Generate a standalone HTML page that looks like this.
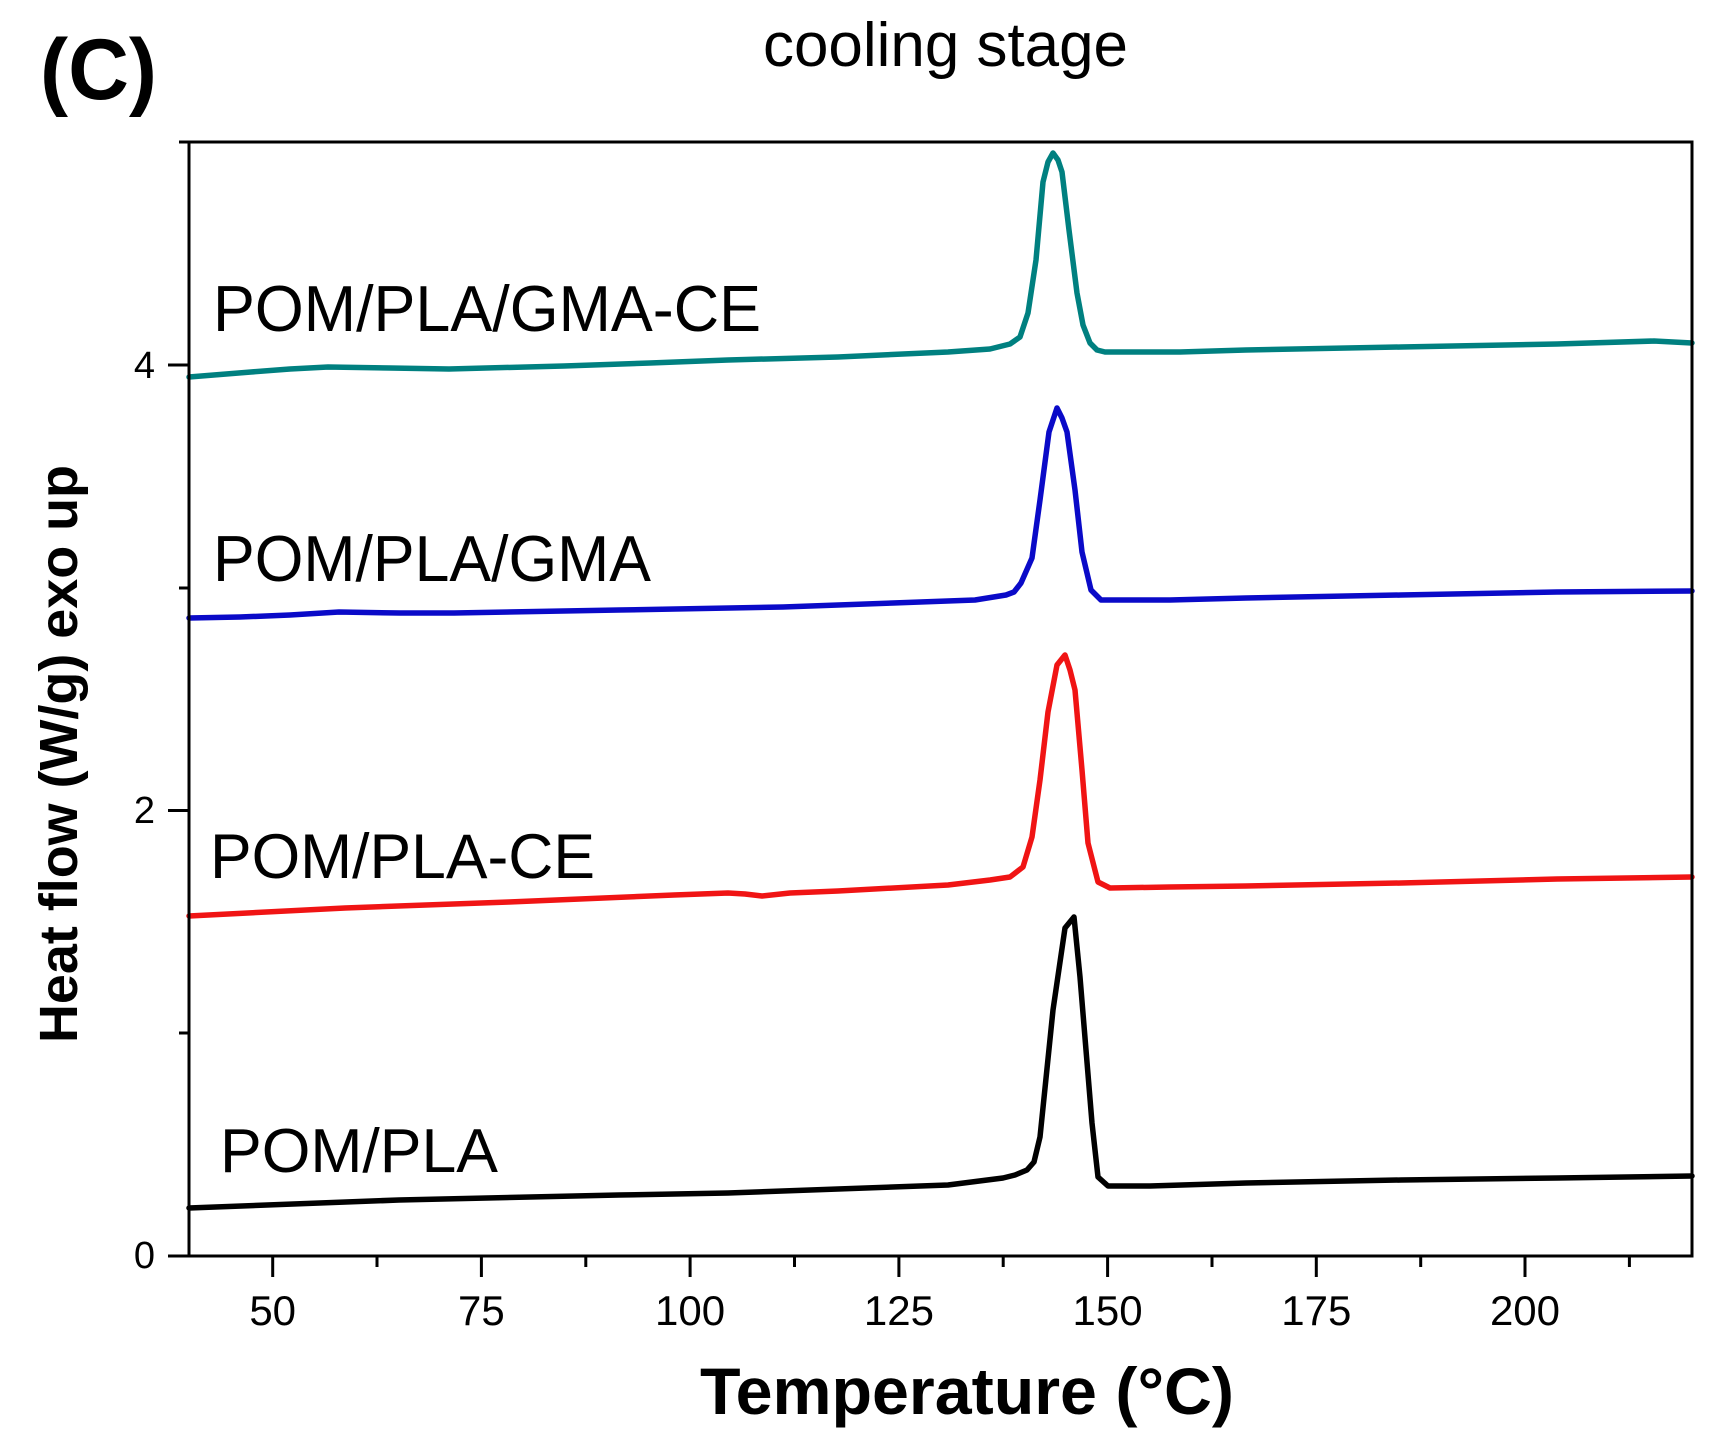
<!DOCTYPE html>
<html>
<head>
<meta charset="utf-8">
<style>
html,body{margin:0;padding:0;background:#fff;}
svg{display:block;}
text{font-family:"Liberation Sans", Arial, sans-serif;fill:#000;}
</style>
</head>
<body>
<svg width="1727" height="1446" viewBox="0 0 1727 1446" xmlns="http://www.w3.org/2000/svg">
<rect x="0" y="0" width="1727" height="1446" fill="#fff"/>

<!-- panel label and title -->
<text x="40" y="99" font-size="86" font-weight="bold" textLength="117" lengthAdjust="spacingAndGlyphs">(C)</text>
<text x="763" y="66" font-size="62" textLength="365" lengthAdjust="spacingAndGlyphs">cooling stage</text>

<!-- curves -->
<g fill="none" stroke-width="5.5" stroke-linejoin="round" stroke-linecap="round">
<path stroke="#008080" d="M189,377 L251,372 L290,369 L328,367 L390,368 L449,369 L564,366 L650,363 L728,360 L838,357 L948,352 L990,349 L1010,344 L1020,337 L1028,313 L1036,260 L1043,182 L1048,162 L1053,153 L1058,160 L1062,172 L1069,230 L1077,293 L1083,325 L1090,343 L1097,350 L1105,352 L1180,352 L1246,350 L1401,347 L1557,344 L1654,341 L1692,343"/>
<path stroke="#0a0ac8" d="M189,618 L240,617 L290,615 L339,612 L400,613 L454,613 L619,610 L783,607 L893,603 L975,600 L1006,595 L1014,592 L1021,583 L1032,558 L1040,500 L1049,432 L1057,408 L1062,418 L1067,432 L1075,490 L1082,552 L1091,590 L1101,600 L1170,600 L1246,598 L1401,595 L1557,592 L1692,591"/>
<path stroke="#f01414" d="M189,916 L345,908 L509,902 L674,895 L728,893 L745,894 L762,896 L790,893 L838,891 L948,885 L990,880 L1010,877 L1023,867 L1032,837 L1040,780 L1048,712 L1057,665 L1065,655 L1070,670 L1075,690 L1082,770 L1088,843 L1098,882 L1110,888 L1170,887 L1246,886 L1401,883 L1557,879 L1692,877"/>
<path stroke="#000" d="M189,1208 L399,1200 L619,1195 L728,1193 L838,1189 L948,1185 L1003,1178 L1015,1175 L1027,1170 L1034,1162 L1040,1137 L1053,1010 L1065,928 L1074,917 L1080,977 L1086,1050 L1092,1123 L1098,1177 L1108,1186 L1150,1186 L1246,1183 L1401,1180 L1557,1178 L1692,1176"/>
</g>

<!-- frame -->
<rect x="189" y="142" width="1503" height="1114" fill="none" stroke="#000" stroke-width="3"/>

<!-- y ticks -->
<g stroke="#000" stroke-width="3">
<line x1="168" y1="1256" x2="189" y2="1256"/>
<line x1="168" y1="810.5" x2="189" y2="810.5"/>
<line x1="168" y1="365" x2="189" y2="365"/>
<line x1="179" y1="1033" x2="189" y2="1033"/>
<line x1="179" y1="588" x2="189" y2="588"/>
<line x1="179" y1="142" x2="189" y2="142"/>
</g>
<g font-size="38" text-anchor="end">
<text x="155" y="1268">0</text>
<text x="155" y="823">2</text>
<text x="155" y="378">4</text>
</g>

<!-- x ticks -->
<g stroke="#000" stroke-width="3">
<line x1="272.7" y1="1256" x2="272.7" y2="1277"/>
<line x1="481.4" y1="1256" x2="481.4" y2="1277"/>
<line x1="690.1" y1="1256" x2="690.1" y2="1277"/>
<line x1="898.9" y1="1256" x2="898.9" y2="1277"/>
<line x1="1107.6" y1="1256" x2="1107.6" y2="1277"/>
<line x1="1316.3" y1="1256" x2="1316.3" y2="1277"/>
<line x1="1525" y1="1256" x2="1525" y2="1277"/>
<line x1="377" y1="1256" x2="377" y2="1267"/>
<line x1="585.8" y1="1256" x2="585.8" y2="1267"/>
<line x1="794.5" y1="1256" x2="794.5" y2="1267"/>
<line x1="1003.2" y1="1256" x2="1003.2" y2="1267"/>
<line x1="1212" y1="1256" x2="1212" y2="1267"/>
<line x1="1420.7" y1="1256" x2="1420.7" y2="1267"/>
<line x1="1629.4" y1="1256" x2="1629.4" y2="1267"/>
</g>
<g font-size="42" text-anchor="middle">
<text x="272.7" y="1325">50</text>
<text x="481.4" y="1325">75</text>
<text x="690.1" y="1325">100</text>
<text x="898.9" y="1325">125</text>
<text x="1107.6" y="1325">150</text>
<text x="1316.3" y="1325">175</text>
<text x="1525" y="1325">200</text>
</g>

<!-- axis titles -->
<text x="700" y="1414" font-size="66" font-weight="bold" textLength="534" lengthAdjust="spacingAndGlyphs">Temperature (°C)</text>
<text transform="translate(77,1043) rotate(-90)" x="0" y="0" font-size="54" font-weight="bold" textLength="578" lengthAdjust="spacingAndGlyphs">Heat flow (W/g) exo up</text>

<!-- series labels -->
<text x="213" y="331" font-size="65" textLength="548" lengthAdjust="spacingAndGlyphs">POM/PLA/GMA-CE</text>
<text x="213" y="581" font-size="65" textLength="438" lengthAdjust="spacingAndGlyphs">POM/PLA/GMA</text>
<text x="210" y="878" font-size="63" textLength="385" lengthAdjust="spacingAndGlyphs">POM/PLA-CE</text>
<text x="220" y="1172" font-size="62" textLength="278" lengthAdjust="spacingAndGlyphs">POM/PLA</text>
</svg>
</body>
</html>
